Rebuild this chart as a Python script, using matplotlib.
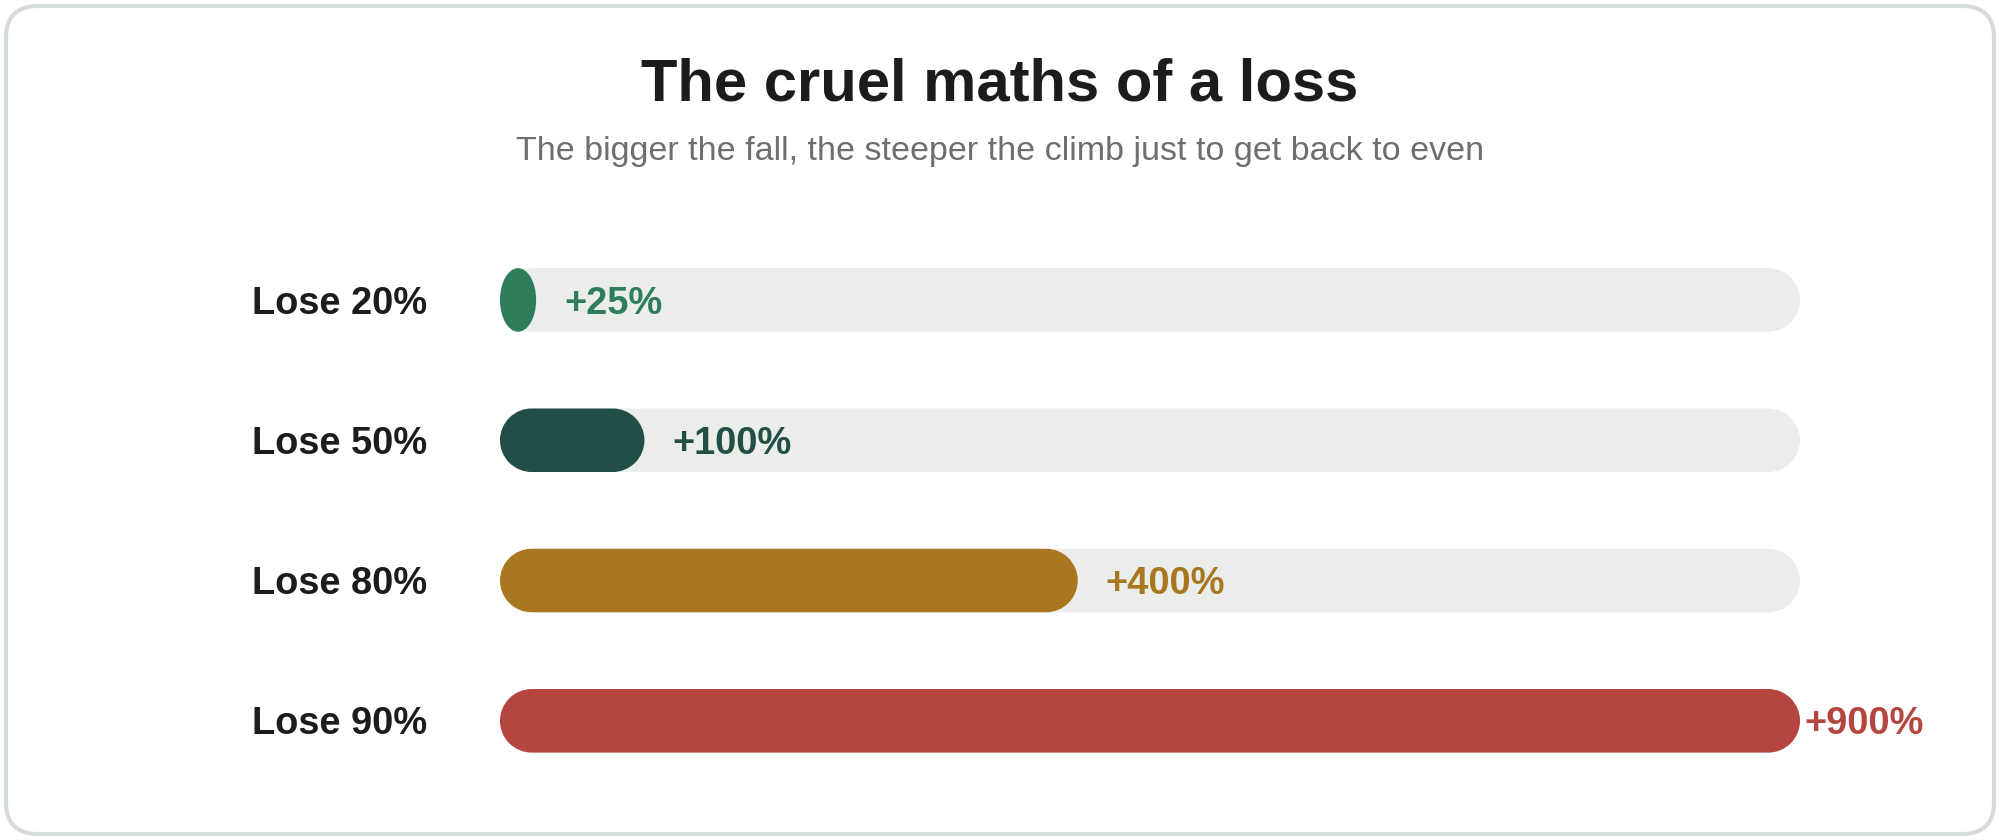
import numpy as np
import matplotlib
matplotlib.use("Agg")
import matplotlib.pyplot as plt
from matplotlib.path import Path
from matplotlib.patches import PathPatch, FancyBboxPatch
from matplotlib.transforms import Affine2D

plt.rcParams['font.family'] = ['Liberation Sans', 'DejaVu Sans']

# data
losses = ["Lose 20%", "Lose 50%", "Lose 80%", "Lose 90%"]
gains = [25, 100, 400, 900]
gain_labels = ["+25%", "+100%", "+400%", "+900%"]
colors = ["#2e7d5b", "#214f47", "#a87720", "#b4463f"]

title = "The cruel maths of a loss"
subtitle = "The bigger the fall, the steeper the climb just to get back to even"

track_color = "#ebedea"
text_color = "#1c1c1c"
bar_h = 0.453
vmax = max(gains)

fig = plt.figure(figsize=(20, 8.4), dpi=100)
fig.patch.set_facecolor("white")

# rounded card border, drawn in pixel units on a background axes
bg = fig.add_axes([0, 0, 1, 1])
bg.set_xlim(0, 2000)
bg.set_ylim(840, 0)
bg.axis("off")
bg.add_patch(FancyBboxPatch((6, 6), 1988, 828,
                            boxstyle="round,pad=0,rounding_size=32",
                            fc="white", ec="#d6dcda", lw=2.9))

fig.text(0.5, 0.8798, title, ha="center", va="baseline",
         fontsize=43, fontweight="bold", color=text_color)
fig.text(0.5, 0.8100, subtitle, ha="center", va="baseline",
         fontsize=24.5, color="#6e6e6e")

ax = fig.add_axes([0.25, 0.0584, 0.65, 0.668])
ax.set_xlim(0, vmax)
ax.set_ylim(len(gains) - 0.5, -0.5)
ax.axis("off")

# pixel scale so pill ends stay round on screen
p0 = ax.transData.transform((0, 0))
p1 = ax.transData.transform((1, 1))
sx = p1[0] - p0[0]
sy = abs(p1[1] - p0[1])
rx_full = (bar_h * sy / 2) / sx


def pill(x0, w, yc, h, color):
    rx = min(w / 2, rx_full)
    ry = h / 2
    right = Path.arc(-90, 90).transformed(
        Affine2D().scale(rx, ry).translate(x0 + w - rx, yc))
    left = Path.arc(90, 270).transformed(
        Affine2D().scale(rx, ry).translate(x0 + rx, yc))
    verts = np.concatenate([right.vertices, left.vertices, right.vertices[:1]])
    codes = np.concatenate([right.codes, left.codes, [Path.CLOSEPOLY]])
    codes[len(right.codes)] = Path.LINETO
    ax.add_patch(PathPatch(Path(verts, codes), fc=color, ec="none"))


for i, (lab, g, glab, c) in enumerate(zip(losses, gains, gain_labels, colors)):
    pill(0, vmax, i, bar_h, track_color)
    pill(0, g, i, bar_h, c)

    ax.annotate(lab, xy=(0, i), xytext=(-52.5, -9.8), textcoords="offset points",
                ha="right", va="baseline", fontsize=27.4, fontweight="bold",
                color=text_color)
    pad = 20.2 if g < vmax else 2.8
    ax.annotate(glab, xy=(g, i), xytext=(pad, -9.8), textcoords="offset points",
                ha="left", va="baseline", fontsize=27.4, fontweight="bold",
                color=c, annotation_clip=False)

fig.savefig("out.png", dpi=100, facecolor="white")
